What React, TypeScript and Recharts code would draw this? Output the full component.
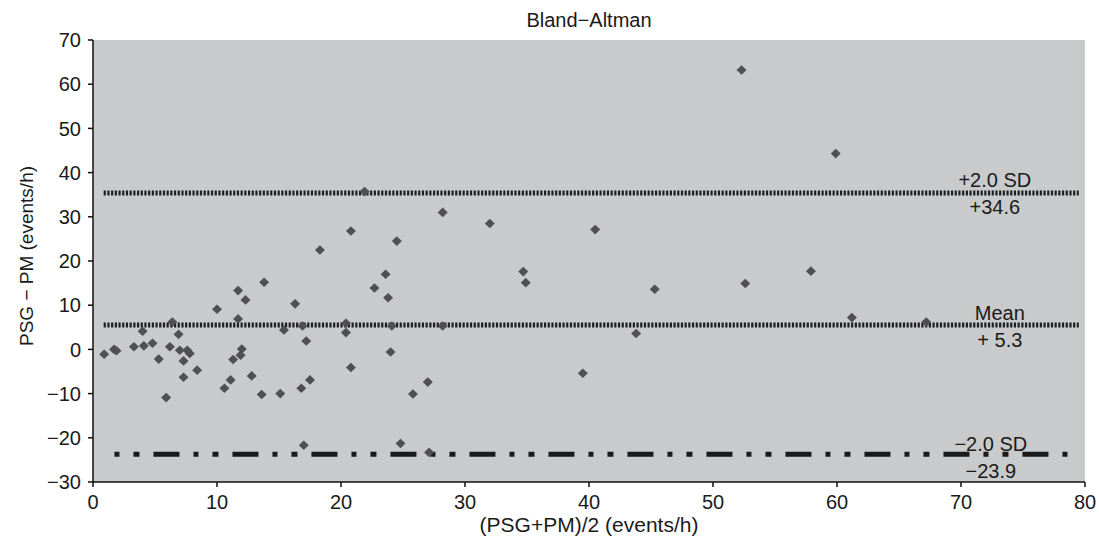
import { ScatterChart, Scatter, XAxis, YAxis, CartesianGrid, ReferenceLine } from 'recharts';

// mean of the two methods, (PSG+PM)/2, events/h
const meanValues = [
  0.9, 1.7, 1.9, 3.3, 4.0, 4.1, 4.8, 5.3, 5.9, 6.2, 6.4, 6.9, 7.0, 7.3, 7.3, 7.6, 7.8, 8.4,
  10.0, 10.6, 11.1, 11.3, 11.7, 11.7, 12.0, 11.9, 12.3, 12.8, 13.6, 13.8, 15.1, 15.4, 16.3,
  16.8, 16.9, 17.2, 17.5, 17.0, 18.3, 20.8, 21.9, 24.5, 22.7, 23.6, 23.8, 24.1, 24.0, 20.4,
  20.4, 20.8, 25.8, 27.0, 24.8, 27.1, 28.2, 32.0, 40.5, 34.7, 34.9, 45.3, 52.6, 28.2, 43.8,
  39.5, 52.3, 59.9, 57.9, 61.2, 67.2,
];

// difference PSG - PM, events/h
const diffValues = [
  -1.1, 0, -0.3, 0.6, 4.1, 0.8, 1.4, -2.2, -10.9, 0.6, 6.2, 3.4, -0.2, -2.6, -6.3, -0.2, -0.9, -4.7,
  9.1, -8.8, -6.9, -2.3, 13.3, 6.9, 0.1, -1.3, 11.2, -6.0, -10.2, 15.2, -10.0, 4.4, 10.3,
  -8.8, 5.3, 1.9, -6.9, -21.7, 22.5, 26.8, 35.7, 24.5, 13.9, 17.0, 11.7, 5.3, -0.6, 5.9,
  3.8, -4.1, -10.1, -7.4, -21.3, -23.3, 31.0, 28.5, 27.1, 17.6, 15.1, 13.6, 14.9, 5.3, 3.6,
  -5.4, 63.2, 44.3, 17.7, 7.2, 6.2,
];

const xTicks = [0, 10, 20, 30, 40, 50, 60, 70, 80];
const yTicks = [-30, -20, -10, 0, 10, 20, 30, 40, 50, 60, 70];

// limits of agreement as drawn
const upperLimit = 35.4;
const meanDiff = 5.5;
const lowerLimit = -23.7;

const points = meanValues.map((x, i) => ({ x, y: diffValues[i] }));

const FONT = '"Liberation Sans", Arial, Helvetica, sans-serif';

const fmtTick = (v: number) => (v < 0 ? '\u2212' + Math.abs(v) : String(v));

const Diamond = (p: any) => {
  const { cx, cy } = p;
  return <path d={`M${cx},${cy - 4.8}L${cx + 5},${cy}L${cx},${cy + 4.8}L${cx - 5},${cy}Z`} fill="#505052" />;
};

const BandLabel = (p: any) => {
  const vb = p.viewBox;
  if (!vb) return null;
  const cx = vb.x + vb.width + p.dx;
  return (
    <g fontFamily={FONT} fontSize={20} fill="#1a1a1a">
      <text x={cx} y={vb.y + p.up} textAnchor="middle">{p.top}</text>
      <text x={cx} y={vb.y + p.down} textAnchor="middle">{p.bottom}</text>
    </g>
  );
};

const YLabel = (p: any) => {
  const vb = p.viewBox;
  if (!vb) return null;
  const cx = vb.x + 33;
  const cy = vb.y + vb.height / 2 - 5;
  return (
    <text x={cx} y={cy} transform={`rotate(-90 ${cx} ${cy})`} textAnchor="middle" fontFamily={FONT} fontSize={19} fill="#1a1a1a">
      PSG − PM (events/h)
    </text>
  );
};

const BlandAltman = () => {
  return (
    <div style={{ position: 'relative', width: 1099, height: 542, background: '#fff' }}>
      <style>{'body{margin:0}'}</style>
      <div
        style={{
          position: 'absolute', left: 93, width: 992, top: 10, textAlign: 'center',
          fontFamily: FONT, fontSize: 20, lineHeight: '20px', color: '#1a1a1a',
        }}
      >
        Bland−Altman
      </div>
      <ScatterChart width={1099} height={542} margin={{ top: 40, right: 14, bottom: 0, left: 0 }}>
        <CartesianGrid fill="#c9cacc" stroke="none" horizontal={false} vertical={false} />
        <XAxis
          type="number" dataKey="x" domain={[0, 80]} ticks={xTicks} height={60}
          tickSize={5} tickMargin={8}
          axisLine={{ stroke: '#111', strokeWidth: 1.5 }} tickLine={{ stroke: '#111', strokeWidth: 1.5 }}
          tick={{ fill: '#1a1a1a', fontSize: 20, fontFamily: FONT }}
          label={{ value: '(PSG+PM)/2 (events/h)', position: 'insideBottom', offset: 10, fill: '#1a1a1a', fontSize: 21, fontFamily: FONT }}
        />
        <YAxis
          type="number" dataKey="y" domain={[-30, 70]} ticks={yTicks} width={93}
          tickSize={5} tickMargin={7} tickFormatter={fmtTick}
          axisLine={{ stroke: '#111', strokeWidth: 1.5 }} tickLine={{ stroke: '#111', strokeWidth: 1.5 }}
          tick={{ fill: '#1a1a1a', fontSize: 20, fontFamily: FONT }}
          label={<YLabel />}
        />
        <ReferenceLine
          segment={[{ x: 0.86, y: upperLimit }, { x: 79.5, y: upperLimit }]}
          stroke="#1e1e1e" strokeWidth={5} strokeDasharray="2.2 1.5"
          label={<BandLabel top="+2.0 SD" bottom="+34.6" dx={-84} up={-6} down={21} />}
        />
        <ReferenceLine
          segment={[{ x: 0.86, y: meanDiff }, { x: 79.5, y: meanDiff }]}
          stroke="#1e1e1e" strokeWidth={5} strokeDasharray="2.2 1.5"
          label={<BandLabel top="Mean" bottom="+ 5.3" dx={-79} up={-5} down={22} />}
        />
        <ReferenceLine
          segment={[{ x: 1.73, y: lowerLimit }, { x: 79.5, y: lowerLimit }]}
          stroke="#1a1a1a" strokeWidth={5} strokeDasharray="5 14 6 14 26 14"
          label={<BandLabel top="−2.0 SD" bottom="−23.9" dx={-88} up={-3} down={24} />}
        />
        <Scatter data={points} fill="#505052" shape={Diamond} isAnimationActive={false} />
      </ScatterChart>
    </div>
  );
};

export default BlandAltman;
